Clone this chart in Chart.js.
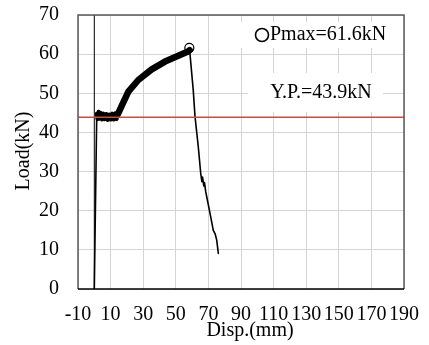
<!DOCTYPE html>
<html>
<head>
<meta charset="utf-8">
<script src="https://cdn.jsdelivr.net/npm/chart.js@4/dist/chart.umd.min.js"></script>
<style>
html, body { margin: 0; padding: 0; background: #fff; }
#wrap { width: 429px; height: 345px; }
</style>
</head>
<body>
<div id="wrap"><canvas id="chart" width="429" height="345"></canvas></div>
<script>
// load-displacement curve
const disp = [0, 1.5, 2.0, 2.6, 3.2, 4.0, 4.8, 5.6, 6.5, 7.4, 8.3, 9.2, 10.1, 11.0, 11.9, 12.8, 13.7, 14.4,
  16.8, 20.9, 27.0, 35.2, 43.4, 51.5, 57.5, 58.5,
  60.7, 61.8, 63.8, 65.3, 66.0, 66.4, 67.2, 67.6, 68.3, 69.0, 71.0, 73.0, 74.2, 75.1, 76.1];
const load = [0, 44.8, 43.4, 45.3, 43.5, 45.0, 43.3, 44.8, 43.4, 44.7, 43.2, 44.6, 43.3, 44.8, 43.3, 44.9, 43.4, 44.6,
  46.8, 50.4, 53.4, 56.1, 58.1, 59.6, 60.7, 61.0,
  50.8, 44.0, 36.3, 29.5, 27.4, 28.6, 26.3, 27.2, 25.0, 23.5, 19.3, 15.0, 14.0, 12.5, 9.1];
const plateauFrom = 1, riseFrom = 17, riseTo = 25;

const pmaxDisp = [58.3];
const pmaxLoad = [61.6];
const ypLoad = 43.9;

const xTicks = [-10, 10, 30, 50, 70, 90, 110, 130, 150, 170, 190];
const yTicks = [0, 10, 20, 30, 40, 50, 60, 70];

const serif = '"Liberation Serif", "Times New Roman", serif';

const curve = disp.map((d, i) => ({ x: d, y: load[i] }));

function segWidth(c) {
  if (c.p0DataIndex >= riseFrom && c.p1DataIndex <= riseTo) return 6.5;
  if (c.p0DataIndex >= plateauFrom && c.p1DataIndex <= riseFrom) return 4;
  return 1.6;
}

const extras = {
  id: 'extras',
  beforeDatasetsDraw(chart) {
    const ctx = chart.ctx;
    ctx.save();
    ctx.fillStyle = '#fff';
    ctx.fillRect(236, 22, 166, 26);   // Pmax label box
    ctx.fillRect(248, 73, 135, 39);   // Y.P. label box
    ctx.restore();
  },
  afterDatasetsDraw(chart) {
    const { ctx, chartArea: a } = chart;
    ctx.save();
    ctx.lineWidth = 1.5;
    ctx.strokeStyle = '#595959';
    ctx.beginPath();
    ctx.moveTo(a.left, a.bottom);
    ctx.lineTo(a.left, a.top);
    ctx.lineTo(a.right, a.top);
    ctx.lineTo(a.right, a.bottom);
    ctx.stroke();
    ctx.strokeStyle = '#000';
    ctx.beginPath();
    ctx.moveTo(a.left, a.bottom);
    ctx.lineTo(a.right, a.bottom);
    ctx.stroke();

    ctx.fillStyle = '#000';
    ctx.font = '20px ' + serif;
    ctx.textBaseline = 'middle';
    ctx.beginPath();
    ctx.lineWidth = 1.6;
    ctx.arc(262, 35, 6.5, 0, Math.PI * 2);
    ctx.stroke();
    ctx.textAlign = 'left';
    ctx.fillText('Pmax=61.6kN', 270, 35);
    ctx.textAlign = 'center';
    ctx.fillText('Y.P.=43.9kN', 321, 93);
    // axis titles
    ctx.fillText('Disp.(mm)', 250, 331);
    ctx.translate(24, 151);
    ctx.rotate(-Math.PI / 2);
    ctx.fillText('Load(kN)', 0, 0);
    ctx.restore();
  }
};

new Chart(document.getElementById('chart'), {
  type: 'scatter',
  data: {
    datasets: [{
      data: [{ x: -10, y: ypLoad }, { x: 190, y: ypLoad }],
      showLine: true,
      borderColor: '#e0403f',
      borderWidth: 1.5,
      pointRadius: 0
    }, {
      data: [{ x: 0, y: 0 }, { x: 0, y: 70 }],
      showLine: true,
      borderColor: '#000',
      borderWidth: 1,
      pointRadius: 0
    }, {
      data: curve,
      showLine: true,
      borderColor: '#000',
      borderWidth: 1.6,
      borderJoinStyle: 'round',
      borderCapStyle: 'round',
      pointRadius: 0,
      segment: { borderWidth: segWidth }
    }, {
      data: pmaxDisp.map((d, i) => ({ x: d, y: pmaxLoad[i] })),
      pointRadius: 4.5,
      pointBackgroundColor: '#fff',
      pointBorderColor: '#000',
      pointBorderWidth: 1.2
    }]
  },
  options: {
    responsive: false,
    animation: false,
    layout: { padding: { left: 0, top: 15, right: 25, bottom: 0 } },
    plugins: { legend: { display: false }, tooltip: { enabled: false } },
    scales: {
      x: {
        type: 'linear',
        min: -10,
        max: 190,
        afterBuildTicks: s => { s.ticks = xTicks.map(v => ({ value: v })); },
        afterFit: s => { s.height = 56; s.paddingLeft = 0; s.paddingRight = 0; },
        grid: { color: '#d4d4d4', lineWidth: 1, drawTicks: false },
        border: { display: false },
        ticks: { color: '#000', padding: 14, maxRotation: 0, autoSkip: false, font: { family: serif, size: 20 } }
      },
      y: {
        min: 0,
        max: 70,
        afterBuildTicks: s => { s.ticks = yTicks.map(v => ({ value: v })); },
        afterFit: s => { s.width = 78; s.paddingTop = 0; s.paddingBottom = 0; },
        grid: { color: '#d4d4d4', lineWidth: 1, drawTicks: false },
        border: { display: false },
        ticks: { color: '#000', padding: 19, font: { family: serif, size: 20 } }
      }
    }
  },
  plugins: [extras]
});
</script>
</body>
</html>
